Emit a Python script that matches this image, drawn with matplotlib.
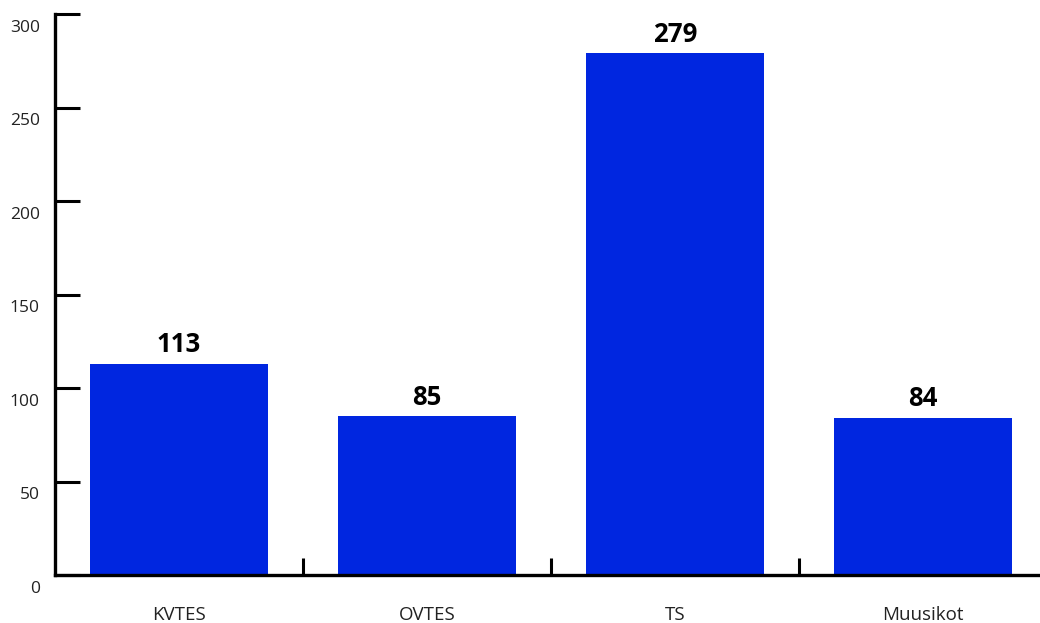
import matplotlib
matplotlib.use("Agg")
import matplotlib.pyplot as plt

categories = ["KVTES", "OVTES", "TS", "Muusikot"]
values = [113, 85, 279, 84]
y_ticks = [0, 50, 100, 150, 200, 250, 300]

BAR_COLOR = "#0026e0"

plt.rcParams["font.family"] = ["Open Sans", "DejaVu Sans"]

fig = plt.figure(figsize=(10.4, 6.23), dpi=100)
ax = fig.add_axes([0.0529, 0.077, 0.9471, 0.9005])

x = list(range(len(categories)))
ax.bar(x, values, width=0.72, color=BAR_COLOR, zorder=2)

for xi, v in zip(x, values):
    ax.annotate(str(v), (xi, v), xytext=(0, 4), textcoords="offset points",
                ha="center", va="bottom", fontsize=18.5, fontweight="bold")

ax.set_xlim(-0.5, 3.472)
ax.set_ylim(0, 300)

for s in ["top", "right"]:
    ax.spines[s].set_visible(False)
ax.spines["left"].set_linewidth(2.4)
ax.spines["bottom"].set_linewidth(2.4)
ax.spines["left"].set_zorder(3)
ax.spines["bottom"].set_zorder(3)

# y ticks: long inward marks, labels drawn below each mark
ax.set_yticks(y_ticks)
ax.tick_params(axis="y", direction="in", length=18, width=2.2, labelleft=False)
for t in y_ticks:
    ax.annotate(str(t), (0, t), xycoords=("axes fraction", "data"),
                xytext=(-11, -10), textcoords="offset points",
                ha="right", va="center", fontsize=12.5, color="#222222")

# x: category labels, separators between categories
ax.set_xticks(x)
ax.set_xticklabels(categories, fontsize=13.5, color="#222222")
ax.tick_params(axis="x", length=0, pad=22)
ax.set_xticks([0.5, 1.5, 2.5], minor=True)
ax.tick_params(axis="x", which="minor", direction="in", length=12, width=2.2)

fig.savefig("out.png", dpi=100)
